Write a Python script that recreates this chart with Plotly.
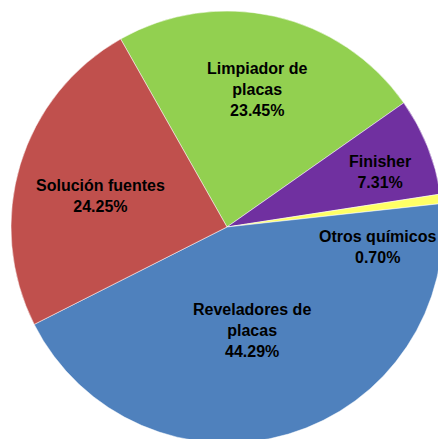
import plotly.graph_objects as go

# ---- data ----
labels = ["Limpiador de placas", "Finisher", "Otros químicos", "Reveladores de placas", "Solución fuentes"]
values = [23.45, 7.31, 0.70, 44.29, 24.25]
label_text = ["Limpiador de<br>placas", "Finisher", "Otros químicos", "Reveladores de<br>placas", "Solución fuentes"]

# ---- styles ----
colors = ["#92D050", "#7030A0", "#FFFF66", "#4F81BD", "#C0504D"]
label_pos_px = [(257, 90), (380, 172), (377, 247), (252, 330), (100, 196)]

W, H = 450, 450
ML, MT, MR, MB = 11, 11, 7, 7
PW, PH = W - ML - MR, H - MT - MB

fig = go.Figure(go.Pie(
    labels=labels,
    values=values,
    sort=False,
    direction="clockwise",
    rotation=-29.5,
    marker=dict(colors=colors, line=dict(color="white", width=0.5)),
    textinfo="none",
    hoverinfo="label+percent",
    showlegend=False,
))

annotations = []
for txt, v, (px, py) in zip(label_text, values, label_pos_px):
    annotations.append(dict(
        text=f"{txt}<br>{v:.2f}%",
        x=(px - ML) / PW, y=1 - (py - MT) / PH,
        xref="paper", yref="paper",
        xanchor="center", yanchor="middle",
        showarrow=False, align="center",
        font=dict(family="Liberation Sans, Arial, sans-serif", size=16, color="black", weight="bold"),
    ))

fig.update_layout(
    width=W, height=H,
    margin=dict(l=ML, t=MT, r=MR, b=MB, pad=0),
    paper_bgcolor="white", plot_bgcolor="white",
    annotations=annotations,
)

fig.write_html(
    "out.html",
    config={"displayModeBar": False},
    post_script="document.body.style.margin='0';document.body.style.overflow='hidden';",
)
